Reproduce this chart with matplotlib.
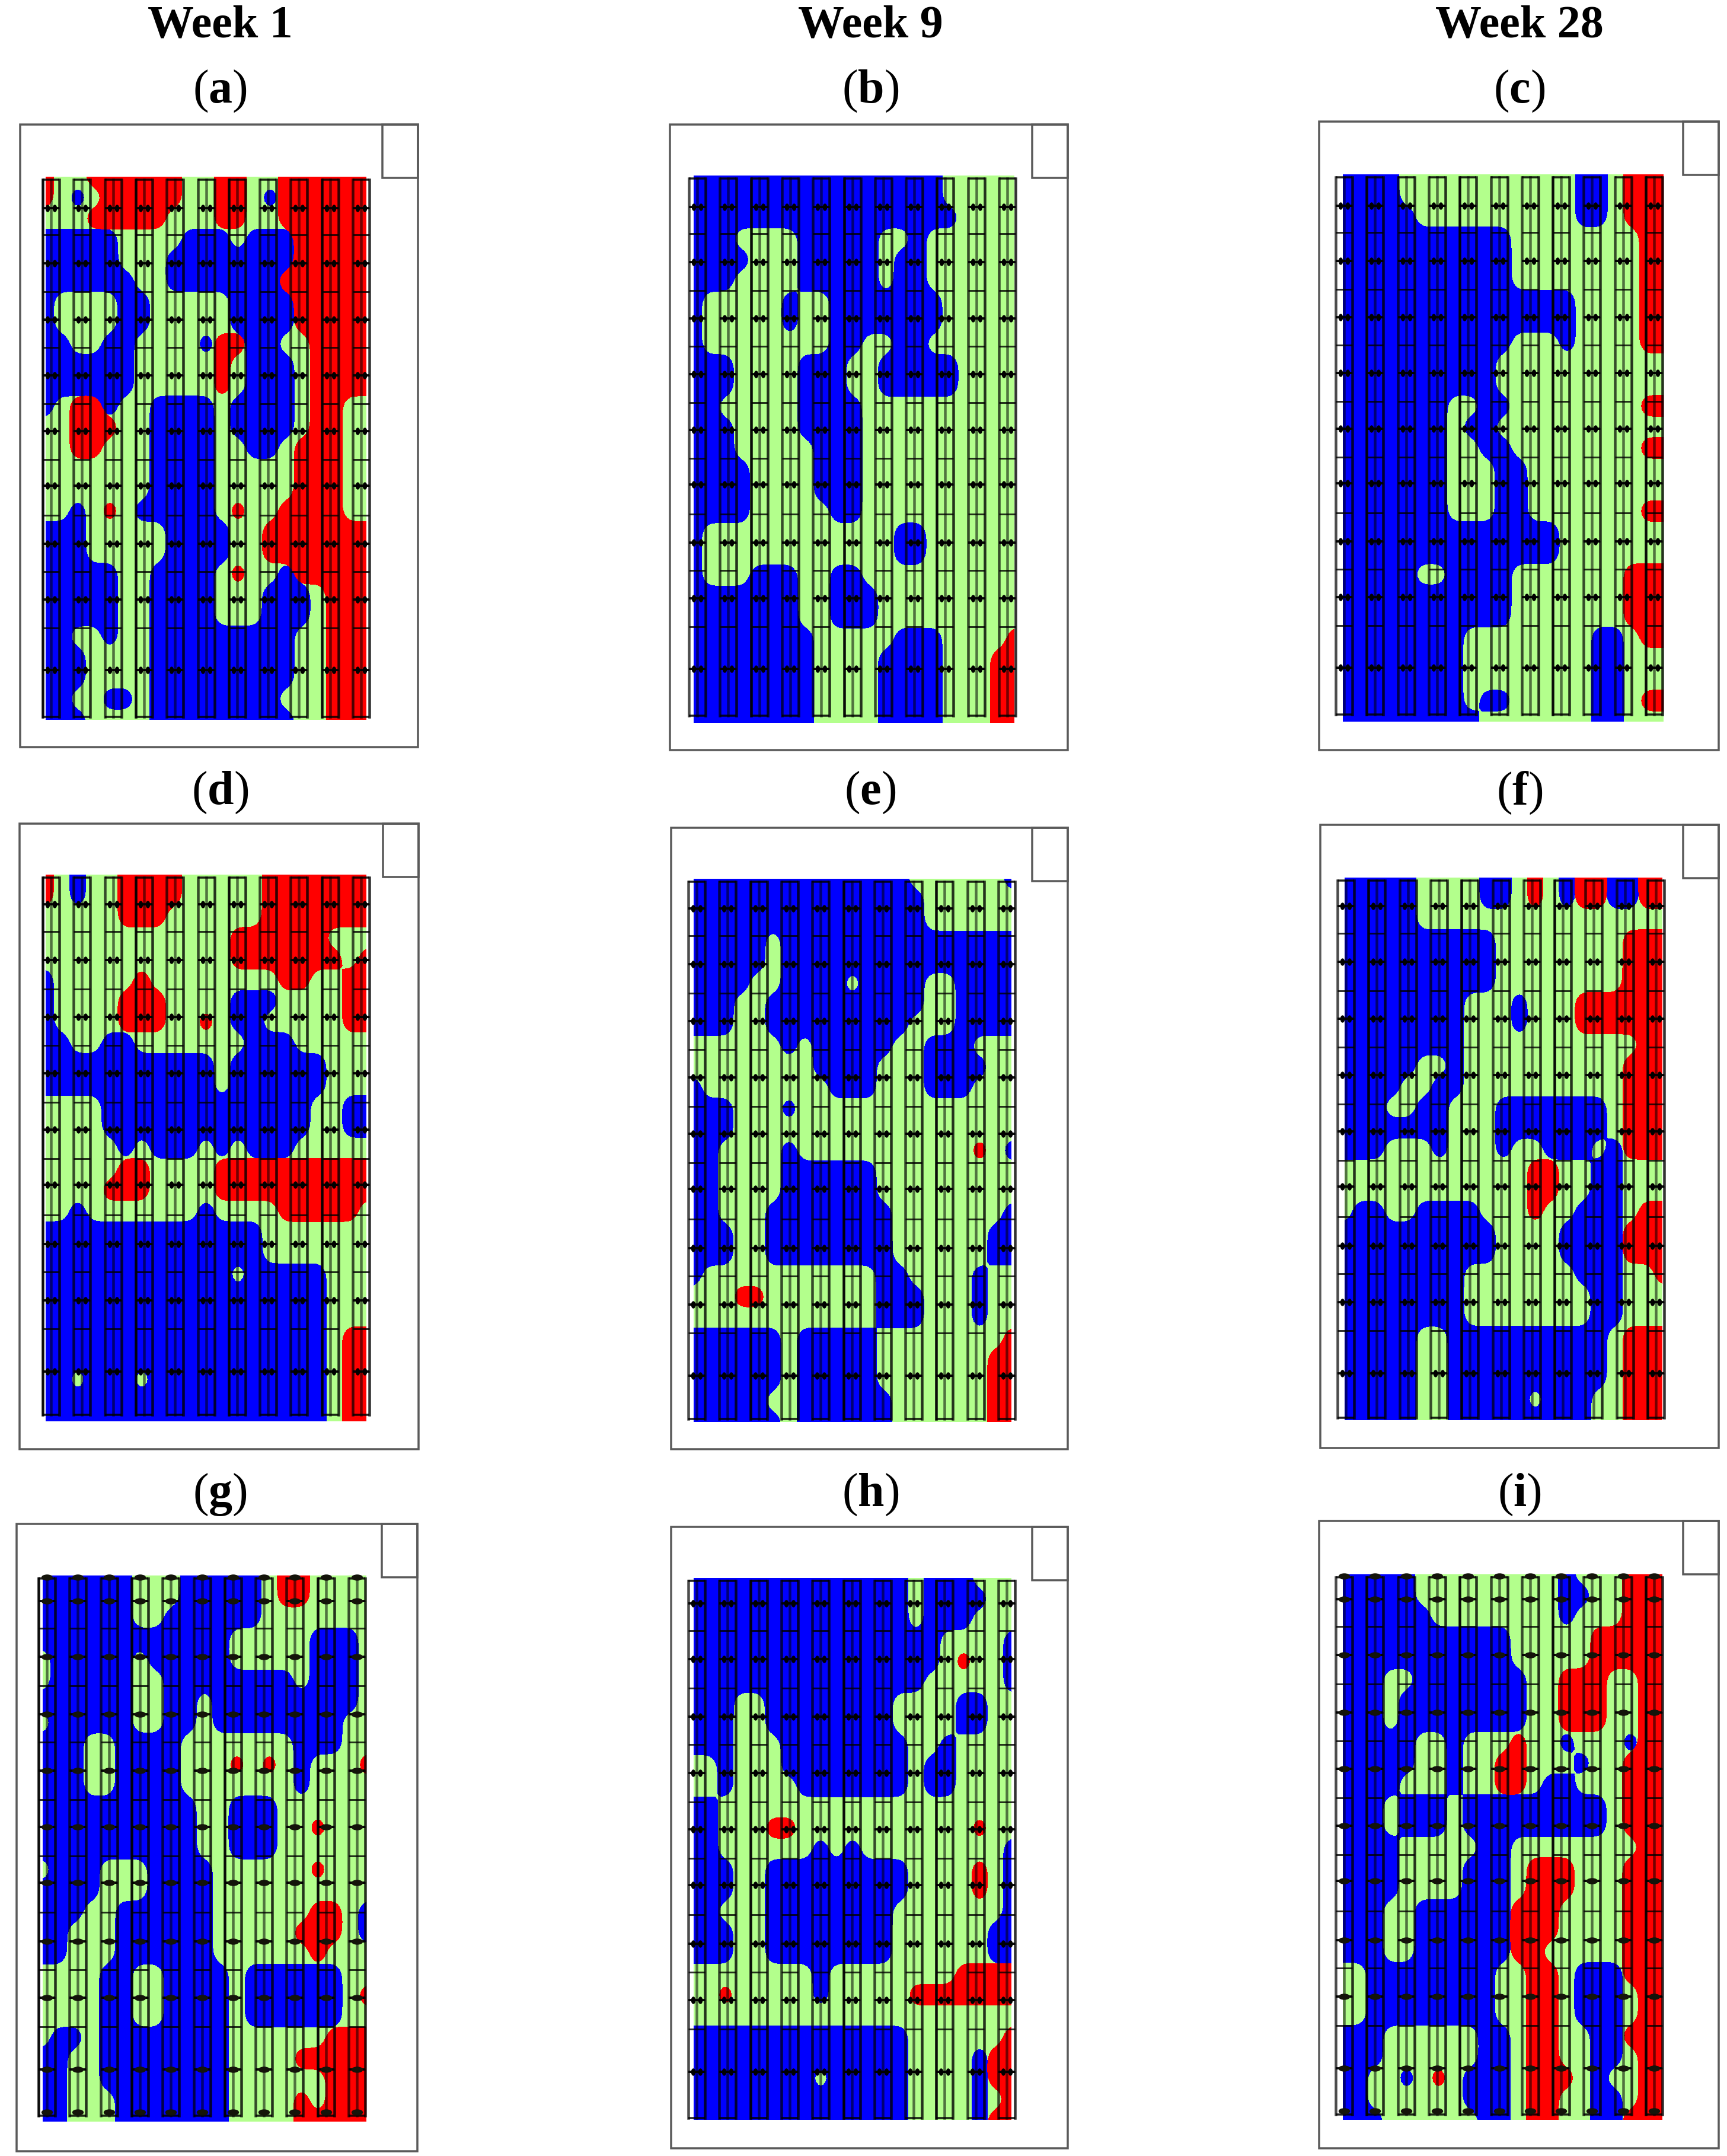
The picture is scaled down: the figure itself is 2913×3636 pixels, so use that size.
import numpy as np
import matplotlib
matplotlib.use('Agg')
import matplotlib.pyplot as plt
from matplotlib.patches import Rectangle
from matplotlib.markers import MarkerStyle
from matplotlib.transforms import Affine2D

# class maps: b = low, . = middle, r = high
MAP_A = ["r..rrrrrr..rr..rrrrrr", "r.b.rrrrr..rr.brrrrrr", "...rrrrr...rr..rrrrrr", "bbbbb....bbb.bbbrrrrr",
         "bbbbb...bbbbbbbbrrrrr", "bbbbbb..bbbbbbbrrrrrr", "b....bb.....bbbbrrrrr", "b....bb.....bbbbrrrrr",
         "bb..bb....brrbb..rrrr", "bbbbbb.....r.bbb.rrrr", "bbbbbb.....r.bbb.rrrr", "b.rrb..bbbb.bbbb.rr..",
         "..rrr..bbbb.bbbb.rr..", "..rr...bbbb..bb.rrr..", ".......bbbb.....rrr..", ".......bbbb.....rrr..",
         "..b.r.bbbbb.r..rrrr..", "bbb.....bbbb..rrrrrrr", "bbb.....bbbb..rrrrrrr", "bbbbb..bbbb.r..brrrrr",
         "bbbbb..bbbb...bbb.rrr", "bbbbb..bbbb...bbb.rrr", "bb..b..bbbbbbbbb..rrr", "bbb....bbbbbbbbb..rrr",
         "bbb....bbbbbbbbb..rrr", "bb..bb.bbbbbbbb...rrr", "bbb....bbbbbbbbb..rrr"]
MAP_B = ["bbbbbbbbbbbbbbbb.....", "bbbbbbbbbbbbbbbb.....", "bbbbbbbbbbbbbbbbb....", "bbb....bbbbb..b......",
         "bbbb...bbbbb.bb......", "bbb....bbbbb.bb......", "b.....b..bbbbbbb.....", "b.....b..bbbbbbb.....",
         "b........bb..bb......", "bbb....bbb..bbbbb....", "bbb....bbb..bbbbb....", "bb.....bbbb..........",
         "bbb....bbbb..........", "bbb.....bbb..........", "bbbb....bbb..........", "bbbb....bbb..........",
         "bbbb.....bb..........", "b............bb......", "b............bb......", "b...bbb..bb..........",
         "bbbbbbb..bbb.........", "bbbbbbb..bbb.........", "bbbbbbbb.....bbb....r", "bbbbbbbb....bbbb...rr",
         "bbbbbbbb....bbbb...rr", "bbbbbbbb....bbbb...rr", "bbbbbbbb....bbbb...rr"]
MAP_C = ["bbbb...........bb.rrr", "bbbb...........bb.rrr", "bbbbb..........bb.rrr", "bbbbbbbbbbb........rr",
         "bbbbbbbbbbb........rr", "bbbbbbbbbbb........rr", "bbbbbbbbbbbbbbb....rr", "bbbbbbbbbbbbbbb....rr",
         "bbbbbbbbbbb...b....rr", "bbbbbbbbbb...........", "bbbbbbbbbb...........", "bbbbbbb..bb........rr",
         "bbbbbbb.bb...........", "bbbbbbb..bb........rr", "bbbbbbb...bb.........", "bbbbbbb...bb.........",
         "bbbbbbb...bb.......rr", "bbbbbbbbbbbbbb.......", "bbbbbbbbbbbbbb.......", "bbbbb..bbbb.......rrr",
         "bbbbbbbbbbb.......rrr", "bbbbbbbbbbb.......rrr", "bbbbbbbb........bb.rr", "bbbbbbbb........bb...",
         "bbbbbbbb........bb...", "bbbbbbbb.bb.....bb.rr", "bbbbbbbbb.......bb..."]
MAP_D = ["r.b..rrrr.....rrrrrrr", "r.b..rrrr.....rrrrrrr", ".....rrr......rrrrrrr", "............rrrrrr...",
         "............rrrrrrr.r", "b.....r........rr..rr", "b....rrr....bbb....rr", "b....rrr..r.bb.....rr",
         "bb..bb.......bbb.....", "bbbbbbbbbbb.bbbbbb...", "bbbbbbbbbbb.bbbbbb...", "....bbbbbbbbbbbbb..bb",
         "....bbbbbbbbbbbbb..bb", ".....b.bbb.b.bbb.....", ".....rr....rrrrrrrrrr", "....rrr....rrrrrrrrrr",
         "..b.......b....rrrrr.", "bbbbbbbbbbbbbb.......", "bbbbbbbbbbbbbb.......", "bbbbbbbbbbbb.bbbbb...",
         "bbbbbbbbbbbbbbbbbb...", "bbbbbbbbbbbbbbbbbb...", "bbbbbbbbbbbbbbbbbb.rr", "bbbbbbbbbbbbbbbbbb.rr",
         "bb.bbb.bbbbbbbbbbb.rr", "bbbbbbbbbbbbbbbbbb.rr", "bbbbbbbbbbbbbbbbbb.rr"]
MAP_E = ["bbbbbbbbbbbbbb......b", "bbbbbbbbbbbbbbb......", "bbbbbbbbbbbbbbb......", "bbbbb.bbbbbbbbbbbbbbb",
         "bbbbb.bbbbbbbbbbbbbbb", "bbbb..bbbb.bbbb..bbbb", "bbb..bbbbbbbbbb..bbbb", "bbb..bbbbbbbbb...bbbb",
         "......b.bbbbb..bbb...", "........bbbb...bbbb..", "b........bbb...bbb...", "bbb...b..............",
         "bbb..................", "bb....b...........r.b", "bb....bbbbbb.........", "bb....bbbbbb.........",
         "bb...bbbbbbbb.......b", "bbb..bbbbbbbb......bb", "bbb..bbbbbbbb......bb", "b...........bb....b..",
         "...rr.......bbb...b..", "............bbb...b..", "bbbbbb.bbbbb........r", "bbbbbb.bbbbb.......rr",
         "bbbbbb.bbbbb.......rr", "bbbbb..bbbbbb......rr", "bbbbbb.bbbbbb......rr"]
MAP_F = ["bbbbb....bb.r.brrbbrr", "bbbbb....bb.r.brrbbrr", "bbbbb................", "bbbbbbbbbb........rrr",
         "bbbbbbbbbb........rrr", "bbbbbbbbbb........rrr", "bbbbbbbb...b...rrrrrr", "bbbbbbbb...b...rrrrrr",
         "bbbbbbbb...........rr", "bbbbb..b..........rrr", "bbbb..bb..........rrr", "bbb..bb...bbbbbbb.rrr",
         "bbbbbbb...bbbbbbb.rrr", "bbb...b...b..bbb.brrr", "............rr..bb...", "............rr..bb...",
         ".bb..bbbb...r..bbb.rr", "bbbbbbbbbb....bbbbrrr", "bbbbbbbbbb....bbbbrrr", "bbbbbbbb.......bbb..r",
         "bbbbbbbb........bb...", "bbbbbbbb........bb...", "bbbbb..bbbbbbbbbb.rrr", "bbbbb..bbbbbbbbbb.rrr",
         "bbbbb..bbbbbbbbbb.rrr", "bbbbb..bbbbb.bbb..rrr", "bbbbb..bbbbbbbbb..rrr"]
MAP_G = ["bbbbbb...bbbbb.rr....", "bbbbbb...bbbbb.rr....", "bbbbbb..bbbbbb.......", "bbbbbbbbbbbb.....bbb.",
         ".bbbbb.bbbbb.....bbb.", ".bbbbb..bbbbbbbb.bbb.", "bbbbbb..bb.bbbbbbbbb.", ".bbbbb..bb.bbbbbbbb..",
         "bbb..bbbb.......bbb..", "bbb..bbbb...r.r.b...r", "bbb..bbbb.......b....", "bbbbbbbbbb..bbb......",
         "bbbbbbbbbb..bbb..r...", "bbbbbbbbbb..bbb......", ".bbb...bbbb......r...", "bbbb...bbbb..........",
         "bbb..bbbbbb......rr.b", "bb...bbbbbb.....rrr.b", "bb...bbbbbb......r...", "....bb..bbbb.bbbbbb..",
         "....bb..bbbb.bbbbbb.r", "....bb..bbbb.bbbbbb..", ".bb.bbbbbbbb......rrr", "bb..bbbbbbbb....rrrrr",
         "bb..bbbbbbbb......rrr", "bb...bbbbbbb....r.rrr", "bb...bbbbbbb....rrrrr"]
MAP_H = ["bbbbbbbbbbbbbb.bbb...", "bbbbbbbbbbbbbb.bbbb..", "bbbbbbbbbbbbbb.bbb...", "bbbbbbbbbbbbbbbb....b",
         "bbbbbbbbbbbbbbbb.r..b", "bbbbbbbbbbbbbbb.....b", "bbb..bbbbbbbb....bb..", "bbb..bbbbbbbb....bb..",
         "bbb...bbbbbbbb..b....", "..b...bbbbbbbb.bb....", "..b....bbbbbbb.bb....", "bb...................",
         "bb...rr...........r..", "bb......b.b.........b", "bbb..bbbbbbbbb....r.b", "bbb..bbbbbbbbb....r.b",
         "bb...bbbbbbbb.......b", "bbb..bbbbbbbb......bb", "bbb..bbbbbbbb......bb", "........b........rrrr",
         "..r.....b.....rrrrrrr", ".....................", "bbbbbbbbbbbbbb......r", "bbbbbbbbbbbbbb....brr",
         "bbbbbbbb.bbbbb....brr", "bbbbbbbbbbbbbb....b.r", "bbbbbbbbbbbbbb....brr"]
MAP_I = ["bbbbb.........b...rrr", "bbbbb.........bb..rrr", "bbbbbb........b...rrr", "bbbbbbbbbbb.....rrrrr",
         "bbbbbbbbbbb.....rrrrr", "bbb..bbbbbbb..rrr..rr", "bbb.bbbbbbbb..rrr..rr", "bbb.bbbbbbbb..rrr..rr",
         "bbbbb..b...r..b...brr", "bbbbb..b..rr...b..rrr", "bbbb...b..rr.bb...rrr", "bbb.bbb.bbbbbbbbb.rrr",
         "bbb.bbb.bbbbbbbbb.rrr", "bbbb.....bb........rr", "bbbb....bbb.rrr...rrr", "bbbb....bbb.rrr...rrr",
         "bbb..bbbbbbrrr....rrr", "bbb..bbbbbbrrr....rrr", "bbb..bbbbbbrr.....rrr", "..bbbbbbbb..rr.bbbrrr",
         "..bbbbbbbb..rr.bbb.rr", "..bbbbbbbb..rr.bbb.rr", "bbb......bb.rr..bbrrr", "bbb......bb.rr..bb.rr",
         "bb..b.r.bbb.rrr.b..rr", "bb......bbb.rr..bb.rr", "bbb......bb.rr..bbrrr"]

WEEKS = ['Week 1', 'Week 9', 'Week 28']
LETTERS = ['a', 'b', 'c', 'd', 'e', 'f', 'g', 'h', 'i']
MAPS = [MAP_A, MAP_B, MAP_C, MAP_D, MAP_E, MAP_F, MAP_G, MAP_H, MAP_I]

# layout in pixels of the 2913x3636 picture
W, H = 2913, 3636
FRAMES = [(34, 210, 705, 1260), (1130, 210, 1801, 1265), (2225, 205, 2899, 1265),
          (33, 1389, 706, 2444), (1132, 1396, 1801, 2444), (2227, 1391, 2899, 2442),
          (28, 2570, 704, 3628), (1132, 2575, 1801, 3623), (2225, 2565, 2899, 3623)]
FIELDS = [(77, 298, 618, 1214), (1170, 296, 1711, 1219), (2265, 294, 2806, 1217),
          (77, 1475, 618, 2397), (1170, 1482, 1706, 2398), (2268, 1480, 2804, 2395),
          (72, 2657, 618, 3578), (1170, 2661, 1706, 3575), (2265, 2655, 2804, 3575)]
STRIP_LEFT = [72, 1162, 2253, 72, 1161, 2256, 65, 1161, 2253]
FIRST_ROW = [53, 53, 53, 50, 50, 48, 43, 43, 42]
LAST_ROW = [832, 832, 832, 838, 838, 836, 833, 833, 833]
ROW_STEPS = np.array([0, 45, 93, 141, 188, 235, 282, 330, 376, 424, 468, 518, 566, 613, 660, 708, 779]) / 779
MARKED = [0, 2, 4, 6, 8, 10, 12, 14, 16]
STRIP_W = 28
STRIP_STEP = 52.3
COL_X = [371, 1468, 2563]
LETTER_Y = [154, 1337, 2521]

GREEN = '#b3ff8c'
px = 0.72


def rounded(mask):
    # bilinear upsampling plus a light blur so the 0.5 contour comes out rounded
    up = 6
    ny, nx = mask.shape
    yi = np.linspace(0, ny - 1, (ny - 1) * up + 1)
    xi = np.linspace(0, nx - 1, (nx - 1) * up + 1)
    fine = np.array([np.interp(xi, np.arange(nx), row) for row in mask])
    fine = np.array([np.interp(yi, np.arange(ny), col) for col in fine.T]).T
    t = np.arange(-4, 5)
    kernel = np.exp(-t ** 2 / (2 * 1.5 ** 2))
    kernel /= kernel.sum()
    padded = np.pad(fine, 4, mode='edge')
    padded = np.apply_along_axis(lambda v: np.convolve(v, kernel, mode='same'), 0, padded)
    padded = np.apply_along_axis(lambda v: np.convolve(v, kernel, mode='same'), 1, padded)
    return padded[4:-4, 4:-4]


plt.rcParams['font.family'] = ['Liberation Serif', 'DejaVu Serif']
plt.rcParams['mathtext.fontset'] = 'custom'
plt.rcParams['mathtext.rm'] = 'Liberation Serif'
plt.rcParams['mathtext.bf'] = 'Liberation Serif:bold'

fig = plt.figure(figsize=(W / 100, H / 100), dpi=100)
ax = fig.add_axes([0, 0, 1, 1])
ax.set_xlim(0, W)
ax.set_ylim(H, 0)
ax.axis('off')

dot_tall = MarkerStyle('o', transform=Affine2D().scale(0.55, 1))
dot_wide = MarkerStyle('o', transform=Affine2D().scale(1, 0.5))

for i, grid in enumerate(MAPS):
    fx0, fy0, fx1, fy1 = FRAMES[i]
    ax.add_patch(Rectangle((fx0, fy0), fx1 - fx0, fy1 - fy0, fill=False, ec='#5a5a5a', lw=3.5 * px, zorder=5))
    ax.add_patch(Rectangle((fx1 - 60, fy0), 60, 90, fill=False, ec='#5a5a5a', lw=3.5 * px, zorder=5))

    x0, y0, x1, y1 = FIELDS[i]
    ax.add_patch(Rectangle((x0, y0), x1 - x0, y1 - y0, fc=GREEN, ec='none', zorder=1))
    table = np.array([list(r) for r in grid])
    blue = rounded((table == 'b').astype(float))
    red = rounded((table == 'r').astype(float))
    xs = np.linspace(x0, x1, blue.shape[1])
    ys = np.linspace(y0, y1, blue.shape[0])
    ax.contourf(xs, ys, blue, levels=[0.5, 2], colors=['#0000ff'], zorder=2)
    ax.contourf(xs, ys, red, levels=[0.5, 2], colors=['#ff0000'], zorder=3)

    # tree rows drawn over the map
    top = y0 + 5
    bottom = y0 + 911
    rows = y0 + FIRST_ROW[i] + ROW_STEPS * (LAST_ROW[i] - FIRST_ROW[i])
    marked = rows[MARKED]
    for s in range(11):
        left = STRIP_LEFT[i] + s * STRIP_STEP
        right = left + STRIP_W
        mid = left + STRIP_W / 2
        edge_alpha = 0.95 if (s + i) % 3 == 0 else 0.7
        if left >= x0 - 15:
            ax.plot([left, left], [top, bottom], color='k', lw=4.5 * px, alpha=edge_alpha, zorder=4)
        ax.plot([right, right], [top, bottom], color='k', lw=4.5 * px, alpha=0.8, zorder=4)
        ax.plot([mid, mid], [top, bottom], color='k', lw=4.5 * px, alpha=0.55, zorder=4)
        ax.hlines(rows, left, right, color='k', lw=3 * px, alpha=0.8, zorder=4)
        ax.hlines(marked, left, right, color='k', lw=4 * px, alpha=0.85, zorder=4)
        ax.hlines([top, bottom], left, right, color='k', lw=3.5 * px, alpha=0.85, zorder=4)
        if i == 6 or i == 8:
            ax.scatter([mid] * len(marked), marked, s=(18 * px) ** 2, marker=dot_wide, color='#14140a', zorder=4.5)
            ax.scatter([mid, mid], [top - 2, bottom - 6], s=(18 * px) ** 2, marker=dot_wide, color='#14140a', zorder=4.5)
        else:
            for dx in (-6, 6):
                ax.scatter([mid + dx] * len(marked), marked, s=(11 * px) ** 2, marker=dot_tall, color='k', zorder=4.5)

for x, week in zip(COL_X, WEEKS):
    ax.text(x, 44, week, ha='center', va='center', fontsize=78 * px, fontweight='bold')
for n, letter in enumerate(LETTERS):
    ax.text(COL_X[n % 3], LETTER_Y[n // 3], r'$\mathrm{(}\mathbf{%s}\mathrm{)}$' % letter,
            ha='center', va='center', fontsize=80 * px)

fig.savefig('out.png', dpi=100, facecolor='white')
